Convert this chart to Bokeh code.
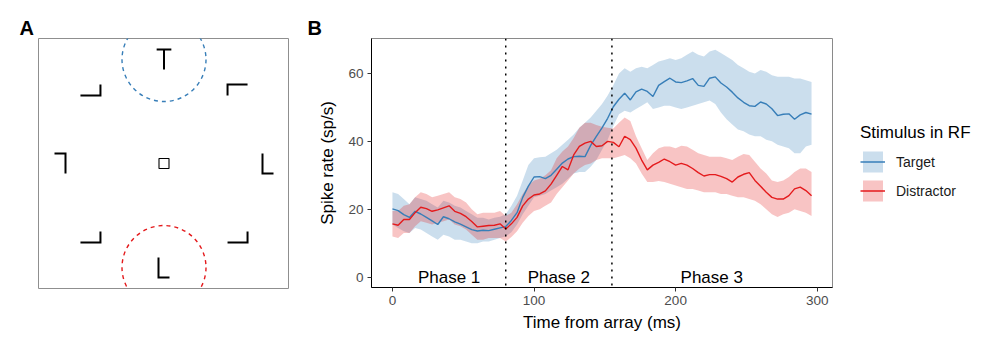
import math
from bokeh.plotting import figure
from bokeh.models import Range1d, Span, Label, Legend, LegendItem, FixedTicker
from bokeh.layouts import row
from bokeh.embed import file_html
from bokeh.resources import INLINE

FONT = "Liberation Sans"

# ---------------- Panel B data ----------------
time_ms = [0, 4, 8, 12, 16, 20, 24, 28, 32, 36,
           40, 44, 48, 52, 56, 60, 64, 68, 72, 76,
           80, 84, 88, 92, 96, 100, 104, 108, 112, 116,
           120, 124, 128, 132, 136, 140, 144, 148, 152, 156,
           160, 164, 168, 172, 176, 180, 184, 188, 192, 196,
           200, 204, 208, 212, 216, 220, 224, 228, 232, 236,
           240, 244, 248, 252, 256, 260, 264, 268, 272, 276,
           280, 284, 288, 292, 296]

target_mean = [20.1, 19.6, 18.4, 17.6, 19.4, 18.6, 17.6, 16.6, 15.5, 17.8,
               17.2, 16.3, 15.6, 14.8, 14.0, 13.6, 13.8, 13.7, 14.1, 14.5,
               14.9, 16.7, 19.0, 23.5, 26.8, 29.5, 29.6, 29.0, 30.0, 31.8,
               33.6, 34.8, 35.5, 35.6, 35.5, 38.8, 41.5, 44.0, 46.8, 50.2,
               52.4, 54.2, 52.2, 54.6, 55.4, 54.7, 53.2, 56.5, 57.6, 58.6,
               57.5, 57.3, 57.8, 58.5, 56.5, 56.2, 58.6, 59.0, 57.2, 56.0,
               54.5, 52.8, 51.5, 50.5, 50.3, 51.6, 51.0, 49.6, 47.6, 48.0,
               48.1, 46.5, 47.8, 48.5, 48.0]
target_lo = [15.5, 14.5, 13.5, 13.0, 14.5, 14.0, 13.0, 12.0, 11.0, 12.5,
             12.0, 11.0, 11.0, 10.5, 10.0, 10.0, 10.5, 10.5, 11.0, 11.5,
             12.0, 13.2, 15.5, 18.5, 21.0, 23.5, 24.0, 24.5, 25.5, 26.5,
             27.5, 29.0, 30.5, 31.0, 31.0, 32.5, 34.5, 37.5, 40.5, 44.5,
             48.0, 49.0, 48.5, 49.5, 50.5, 51.5, 49.5, 50.0, 50.5, 50.5,
             50.0, 49.5, 50.0, 50.5, 51.0, 51.5, 52.0, 51.0, 48.5, 46.5,
             45.0, 43.5, 43.0, 42.0, 41.5, 41.5, 40.5, 40.0, 39.0, 38.5,
             38.0, 36.5, 36.5, 38.5, 39.0]
target_hi = [25.0, 24.5, 23.0, 21.5, 23.5, 23.0, 22.5, 21.5, 20.5, 22.5,
             22.0, 21.0, 20.5, 19.5, 18.5, 17.5, 17.5, 17.0, 17.5, 17.8,
             18.5, 21.0, 24.0, 28.5, 33.0, 35.0, 35.3, 35.5, 36.5, 37.5,
             39.0, 40.5, 42.0, 44.0, 45.5, 47.0, 49.0, 51.0, 53.5, 56.5,
             60.0, 61.5, 60.5, 61.5, 62.0, 61.5, 62.5, 63.5, 64.0, 64.5,
             64.0, 64.5, 65.5, 66.5, 65.5, 65.0, 66.5, 67.0, 66.0, 65.0,
             64.0, 62.5, 61.5, 60.5, 60.0, 61.0, 60.5, 59.5, 59.0, 59.0,
             59.0, 58.5, 58.5, 58.0, 57.5]

distractor_mean = [15.7, 15.3, 17.0, 17.0, 19.0, 20.6, 20.2, 19.4, 19.8, 20.4,
                   21.0, 19.4, 18.8, 17.8, 16.4, 14.8, 15.0, 15.2, 15.3, 15.7,
                   14.2, 15.7, 17.6, 21.0, 23.0, 24.2, 24.5, 25.4, 27.4, 30.0,
                   32.6, 31.6, 36.0, 38.5, 39.5, 40.0, 38.5, 38.7, 40.0, 39.7,
                   38.4, 41.5, 40.5, 38.0, 34.5, 31.6, 33.0, 33.8, 34.8, 34.0,
                   33.0, 33.5, 33.0, 32.0, 30.8, 29.8, 30.2, 30.2, 29.7, 29.0,
                   28.0, 29.5, 30.3, 30.8, 28.5, 26.8, 25.0, 23.5, 23.0, 23.0,
                   24.0, 26.0, 26.5, 25.5, 24.0]
distractor_lo = [12.0, 11.5, 13.0, 13.0, 15.0, 16.5, 16.0, 15.5, 16.0, 16.5,
                 17.0, 15.5, 15.0, 14.0, 12.5, 11.0, 11.0, 11.5, 11.5, 11.5,
                 10.5, 11.8, 13.5, 16.0, 18.0, 19.5, 20.0, 21.0, 22.0, 24.5,
                 26.5, 28.5, 30.5, 32.0, 33.0, 33.5, 34.5, 35.0, 35.0, 35.0,
                 35.5, 36.0, 35.0, 33.5, 30.5, 28.0, 28.0, 28.3, 28.0, 27.5,
                 27.0, 26.5, 26.0, 26.0, 25.5, 25.0, 25.0, 25.0, 24.5, 24.5,
                 24.0, 23.5, 23.5, 23.0, 22.5, 21.5, 20.0, 18.5, 17.7, 18.5,
                 19.0, 20.0, 19.5, 19.0, 18.0]
distractor_hi = [19.5, 19.5, 21.0, 21.5, 23.5, 25.0, 24.5, 23.5, 24.0, 24.5,
                 25.0, 23.5, 23.0, 22.0, 20.0, 18.5, 19.0, 19.0, 19.0, 19.5,
                 18.0, 19.0, 21.5, 24.5, 27.0, 28.5, 29.0, 30.0, 31.5, 35.0,
                 37.0, 38.5, 41.0, 44.0, 45.5, 45.5, 44.8, 44.3, 44.0, 43.8,
                 45.5, 47.0, 46.0, 41.5, 38.0, 34.5, 36.5, 38.0, 38.5, 38.5,
                 38.0, 38.7, 38.5, 37.5, 36.5, 36.0, 35.5, 35.5, 35.5, 35.0,
                 34.5, 35.5, 36.3, 36.0, 34.0, 32.0, 30.5, 28.5, 28.0, 28.5,
                 29.5, 31.0, 32.0, 32.0, 31.0]

phase_edges = [0, 80, 155, 296]
phase_names = ["Phase 1", "Phase 2", "Phase 3"]
x_ticks = [0, 100, 200, 300]
y_ticks = [0, 20, 40, 60]
series_names = ["Target", "Distractor"]
series_colors = ["#377EB8", "#E41A1C"]

# ---------------- Panel A data ----------------
stim_angle = [90, 45, 0, 315, 270, 225, 180, 135]        # position on the array (deg)
stim_shape = ["T", "L", "L", "L", "L", "L", "L", "L"]
stim_rotation = [0, 270, 0, 90, 0, 90, 180, 90]           # rotation of each letter (deg)
array_radius = 104
rf_angle = [90, 270]
rf_colors = ["#377EB8", "#E41A1C"]
rf_radius = 42
fixation_size = 10


def panel_title(p, letter, offset):
    p.title.text = letter
    p.title.text_font = FONT
    p.title.text_font_size = "20px"
    p.title.text_font_style = "bold"
    p.title.text_color = "black"
    p.title.align = "left"
    p.title.offset = offset
    p.title.standoff = 0


# ---------------- Panel A ----------------
pa = figure(frame_width=250, frame_height=250, min_border_left=38, min_border_right=12,
            min_border_top=38, min_border_bottom=64,
            x_range=Range1d(-125.5, 124.5), y_range=Range1d(-125, 125),
            x_axis_type=None, y_axis_type=None,
            output_backend="svg", toolbar_location=None, tools="")
pa.grid.visible = False
pa.outline_line_color = "#8f8f8f"
pa.outline_line_width = 1
pa.background_fill_color = "white"
pa.border_fill_color = "white"
panel_title(pa, "A", -19)

# letter templates (in letter-local units)
L_TEMPLATE = [[(0 - 5.5, 20 - 10), (0 - 5.5, 0 - 10), (11 - 5.5, 0 - 10)]]
T_TEMPLATE = [[(-7.35, 10), (7.35, 10)], [(0, 10), (0, -10)]]

xs, ys = [], []
for ang, shp, rot in zip(stim_angle, stim_shape, stim_rotation):
    cx = array_radius * math.cos(math.radians(ang))
    cy = array_radius * math.sin(math.radians(ang))
    tmpl = T_TEMPLATE if shp == "T" else L_TEMPLATE
    c, s = math.cos(math.radians(rot)), math.sin(math.radians(rot))
    for seg in tmpl:
        xs.append([cx + px * c - py * s for px, py in seg])
        ys.append([cy + px * s + py * c for px, py in seg])
pa.multi_line(xs=xs, ys=ys, line_color="black", line_width=2, line_join="miter", line_cap="butt")

rf_x = [array_radius * math.cos(math.radians(a)) for a in rf_angle]
rf_y = [array_radius * math.sin(math.radians(a)) for a in rf_angle]
pa.circle(x=rf_x, y=rf_y, radius=rf_radius, fill_color=None, line_color=rf_colors,
          line_width=1.4, line_dash="4 4")
pa.rect(x=[0], y=[0], width=fixation_size, height=fixation_size, fill_color=None,
        line_color="black", line_width=1.1)

# ---------------- Panel B ----------------
pb = figure(frame_width=461, frame_height=249, min_border_left=71, min_border_right=168,
            min_border_top=38, min_border_bottom=65,
            x_range=Range1d(-14.8, 310.8), y_range=Range1d(-3.05, 70.3),
            output_backend="svg", toolbar_location=None, tools="")
pb.grid.visible = False
pb.outline_line_color = "#8a8a8a"
pb.outline_line_width = 1
pb.background_fill_color = "white"
pb.border_fill_color = "white"
panel_title(pb, "B", -64)

band_t = pb.varea(x=time_ms, y1=target_lo, y2=target_hi, fill_color=series_colors[0], fill_alpha=0.26)
band_d = pb.varea(x=time_ms, y1=distractor_lo, y2=distractor_hi, fill_color=series_colors[1], fill_alpha=0.26)
line_t = pb.line(x=time_ms, y=target_mean, line_color=series_colors[0], line_width=1.4)
line_d = pb.line(x=time_ms, y=distractor_mean, line_color=series_colors[1], line_width=1.4)

for edge in phase_edges[1:-1]:
    pb.add_layout(Span(location=edge, dimension="height", line_color="black",
                       line_width=1.5, line_dash="2 5"))
for i, name in enumerate(phase_names):
    mid = (phase_edges[i] + phase_edges[i + 1]) / 2
    pb.add_layout(Label(x=mid, y=0, text=name, text_font=FONT, text_font_size="17px",
                        text_align="center", text_baseline="alphabetic", text_color="black"))

pb.xaxis.ticker = FixedTicker(ticks=x_ticks)
pb.yaxis.ticker = FixedTicker(ticks=y_ticks)
pb.xaxis.axis_label = "Time from array (ms)"
pb.yaxis.axis_label = "Spike rate (sp/s)"
for ax in (pb.xaxis[0], pb.yaxis[0]):
    ax.axis_line_color = "black"
    ax.axis_line_width = 1
    ax.major_tick_line_color = "#333333"
    ax.major_tick_out = 4
    ax.major_tick_in = 0
    ax.minor_tick_line_color = None
    ax.major_label_text_font = FONT
    ax.major_label_text_font_size = "13.5px"
    ax.major_label_text_color = "#4d4d4d"
    ax.major_label_standoff = 4
    ax.axis_label_text_font = FONT
    ax.axis_label_text_font_size = "17px"
    ax.axis_label_text_font_style = "normal"
    ax.axis_label_text_color = "black"
pb.xaxis.axis_label_standoff = 5
pb.yaxis.axis_label_standoff = 8

legend = Legend(items=[LegendItem(label=series_names[0], renderers=[band_t, line_t]),
                       LegendItem(label=series_names[1], renderers=[band_d, line_d])],
                location="center_left", title="Stimulus in RF",
                title_text_font=FONT, title_text_font_size="17px", title_text_font_style="normal",
                title_text_color="black", title_standoff=6,
                label_text_font=FONT, label_text_font_size="14px", label_text_color="#1a1a1a",
                label_standoff=11,
                glyph_width=25, glyph_height=26, spacing=3, padding=0, margin=28,
                border_line_color=None, background_fill_alpha=0)
pb.add_layout(legend, "right")

layout = row(pa, pb)
open("out.html", "w").write(file_html(layout, INLINE))
